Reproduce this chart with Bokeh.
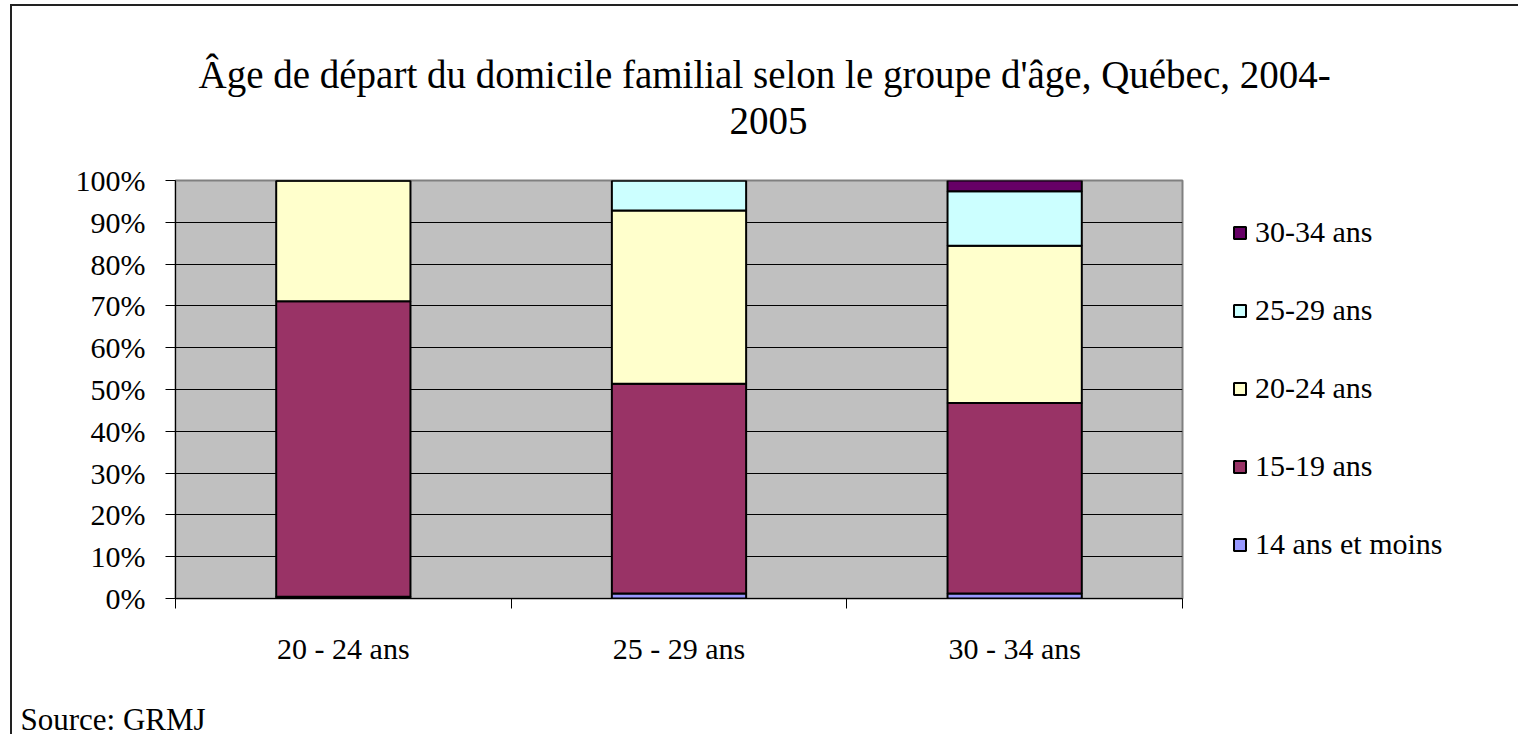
from bokeh.plotting import figure
from bokeh.models import Range1d, FixedTicker, Title, Legend, LegendItem, ColumnDataSource
from bokeh.embed import file_html
from bokeh.resources import INLINE

# ---- data ----
categories = ["20 - 24 ans", "25 - 29 ans", "30 - 34 ans"]
series = ["14 ans et moins", "15-19 ans", "20-24 ans", "25-29 ans", "30-34 ans"]
s_14_moins = [0.4, 1.2, 1.2]
s_15_19 = [70.7, 50.2, 45.6]
s_20_24 = [28.9, 41.4, 37.6]
s_25_29 = [0.0, 7.2, 13.0]
s_30_34 = [0.0, 0.0, 2.6]
colors = ["#9999FF", "#993366", "#FFFFCC", "#CCFFFF", "#660066"]
y_ticks = [0, 10, 20, 30, 40, 50, 60, 70, 80, 90, 100]
y_tick_labels = ["0%", "10%", "20%", "30%", "40%", "50%", "60%", "70%", "80%", "90%", "100%"]
title_line1 = "Âge de départ du domicile familial selon le groupe d'âge, Québec, 2004-"
title_line2 = "2005"
source_text = "Source: GRMJ"

FONT = "Liberation Serif"

x_pos = [i + 0.5 for i in range(len(categories))]
data = {"x": x_pos}
for name, vals in zip(series, [s_14_moins, s_15_19, s_20_24, s_25_29, s_30_34]):
    data[name] = vals
src = ColumnDataSource(data)

p = figure(frame_width=1007, frame_height=418, output_backend="svg", toolbar_location=None,
           x_range=Range1d(0, len(categories)), y_range=Range1d(0, 100),
           min_border_left=163, min_border_right=334, min_border_top=174, min_border_bottom=136)
p.styles = {"margin-left": "10px", "margin-top": "4px",
            "border-left": "2px solid #222222", "border-top": "2px solid #222222"}
p.background_fill_color = "#C0C0C0"
p.border_fill_color = "white"
p.outline_line_color = "#808080"
p.outline_line_width = 2

rs = p.vbar_stack(series, x="x", width=0.4, color=colors, source=src,
                  line_color="black", line_width=2)

# axes
p.xaxis.ticker = FixedTicker(ticks=x_pos, minor_ticks=list(range(len(categories) + 1)))
p.xaxis.major_label_overrides = {x: c for x, c in zip(x_pos, categories)}
p.xaxis.major_tick_line_color = None
p.xaxis.major_tick_out = 0
p.xaxis.major_tick_in = 0
p.xaxis.minor_tick_out = 10
p.xaxis.minor_tick_in = 0
p.xaxis.minor_tick_line_color = "black"
p.xaxis.axis_line_color = "black"
p.xaxis.axis_line_width = 1
p.xaxis.major_label_standoff = 23
p.xaxis.major_label_text_font = FONT
p.xaxis.major_label_text_font_size = "30px"
p.xaxis.major_label_text_color = "black"

p.yaxis.ticker = FixedTicker(ticks=y_ticks)
p.yaxis.major_label_overrides = {t: l for t, l in zip(y_ticks, y_tick_labels)}
p.yaxis.major_tick_out = 10
p.yaxis.major_tick_in = 0
p.yaxis.minor_tick_line_color = None
p.yaxis.major_tick_line_color = "black"
p.yaxis.axis_line_color = "black"
p.yaxis.major_label_standoff = 20
p.yaxis.major_label_text_font = FONT
p.yaxis.major_label_text_font_size = "30px"
p.yaxis.major_label_text_color = "black"

p.xgrid.visible = False
p.ygrid.ticker = FixedTicker(ticks=y_ticks)
p.ygrid.grid_line_color = "black"
p.ygrid.grid_line_width = 1

# title: spacer + two lines above the frame (first added is nearest the frame)
p.add_layout(Title(text=" ", align="left", standoff=2,
                   text_font=FONT, text_font_size="39px"), "above")
p.add_layout(Title(text=title_line2, align="left", offset=554, standoff=0,
                   text_font=FONT, text_font_size="39px", text_font_style="normal",
                   text_color="black"), "above")
p.add_layout(Title(text=title_line1, align="left", offset=23, standoff=20,
                   text_font=FONT, text_font_size="39px", text_font_style="normal",
                   text_color="black"), "above")

# source below the axis
p.add_layout(Title(text=source_text, align="left", offset=-155, standoff=64,
                   text_font=FONT, text_font_size="31px", text_font_style="normal",
                   text_color="black"), "below")

items = [LegendItem(label=series[i], renderers=[rs[i]]) for i in reversed(range(len(series)))]
legend = Legend(items=items, location=(50, 37), orientation="vertical",
                glyph_width=15, glyph_height=15, label_height=34, spacing=44,
                label_standoff=8, padding=0, margin=0,
                label_text_font=FONT, label_text_font_size="30px", label_text_color="black",
                border_line_color=None, background_fill_alpha=0)
p.add_layout(legend, "right")

open("out.html", "w").write(file_html(p, INLINE))
